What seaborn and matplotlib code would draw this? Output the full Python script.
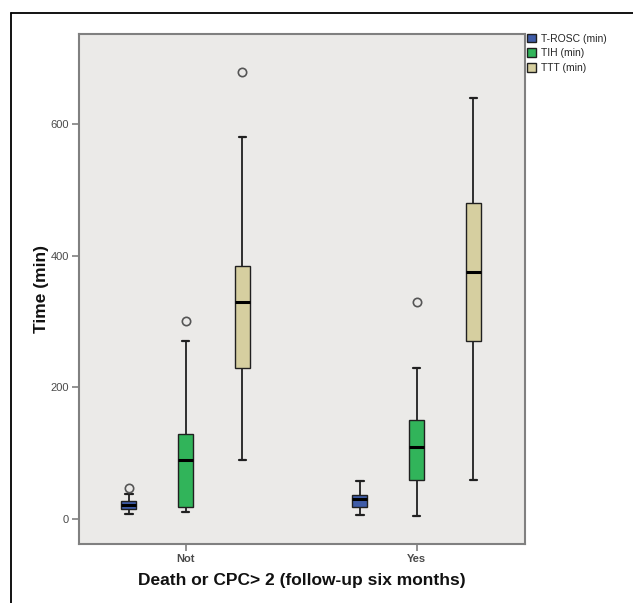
import matplotlib
matplotlib.use("Agg")

import matplotlib.pyplot as plt
from matplotlib.lines import Line2D
import seaborn as sns
import numpy as np
import pandas as pd

# ──────────────────────────────────────────────
# Data (minutes)
# ──────────────────────────────────────────────
groups  = ["Not", "Yes"]
series  = ["T-ROSC (min)", "TIH (min)", "TTT (min)"]

# per series: [Not, Yes]
whisk_lo = {"T-ROSC (min)": [7, 6],     "TIH (min)": [10, 5],    "TTT (min)": [90, 60]}
q1       = {"T-ROSC (min)": [15, 18],   "TIH (min)": [18, 60],   "TTT (min)": [229, 270]}
median   = {"T-ROSC (min)": [22, 30],   "TIH (min)": [90, 110],  "TTT (min)": [330, 375]}
q3       = {"T-ROSC (min)": [27, 37],   "TIH (min)": [130, 150], "TTT (min)": [385, 481]}
whisk_hi = {"T-ROSC (min)": [38, 58],   "TIH (min)": [270, 230], "TTT (min)": [581, 640]}
outliers = {"T-ROSC (min)": [[47], []], "TIH (min)": [[301], [330]], "TTT (min)": [[680], []]}

# ──────────────────────────────────────────────
# Theme
# ──────────────────────────────────────────────
BG_PLOT = "#ebeae8"
SPINE   = "#808080"
TICKTXT = "#4a4a4a"
PALETTE = {"T-ROSC (min)": "#3f5ca8", "TIH (min)": "#31b45a", "TTT (min)": "#d6cfa0"}

sns.set_theme(style="white")
plt.rcParams["font.family"] = ["Liberation Sans", "DejaVu Sans"]

# build a small sample per box whose quartiles / whiskers match the read values
rows = []
for s in series:
    for i, g in enumerate(groups):
        top = outliers[s][i] if outliers[s][i] else [whisk_hi[s][i]]
        vals = [whisk_lo[s][i], q1[s][i], q1[s][i], median[s][i], median[s][i],
                q3[s][i], q3[s][i], whisk_hi[s][i]] + top
        for v in vals:
            rows.append({"group": g, "series": s, "time": v})
df = pd.DataFrame(rows)

fig = plt.figure(figsize=(6.33, 6.03), dpi=100, facecolor="white")
ax = fig.add_axes([0.1243, 0.0978, 0.829 - 0.1243, 0.9444 - 0.0978])
ax.set_facecolor(BG_PLOT)

sns.boxplot(
    data=df, x="group", y="time", hue="series",
    order=groups, hue_order=series, palette=PALETTE, saturation=1,
    width=0.738, gap=0.74, whis=1.5, ax=ax,
    linecolor="#202020", linewidth=1.0,
    medianprops={"color": "black", "linewidth": 2.2},
    whiskerprops={"color": "#202020", "linewidth": 1.3},
    capprops={"color": "#202020", "linewidth": 1.6},
    flierprops={"marker": "o", "markersize": 6, "markerfacecolor": "none",
                "markeredgecolor": "#555555", "markeredgewidth": 1.2},
)

ax.set_xlim(-0.463, 1.468)
ax.set_ylim(-38, 738)
ax.set_yticks([0, 200, 400, 600])

ax.set_xlabel("Death or CPC> 2 (follow-up six months)", fontsize=12.5,
              fontweight="bold", color="#111111", labelpad=7)
ax.set_ylabel("Time (min)", fontsize=12.5, fontweight="bold",
              color="#111111", labelpad=1)

ax.tick_params(axis="both", which="both", direction="out", length=5, width=1.2,
               color=SPINE, labelcolor=TICKTXT, labelsize=8, pad=2,
               left=True, bottom=True)
for lbl in ax.get_xticklabels():
    lbl.set_fontweight("bold")
for sp in ax.spines.values():
    sp.set_color(SPINE)
    sp.set_linewidth(1.5)

sns.move_legend(ax, "upper left", bbox_to_anchor=(1.005, 1.0), frameon=False,
                title=None, fontsize=7.5, handlelength=0.9, handleheight=0.9,
                handletextpad=0.4, labelspacing=0.45, borderaxespad=0.0,
                borderpad=0.0)

# outer frame (top + left edges of the figure panel)
fig.add_artist(Line2D([11 / 633, 1.0], [1 - 13 / 603] * 2,
                      transform=fig.transFigure, color="black", lw=1.3))
fig.add_artist(Line2D([11 / 633] * 2, [0.0, 1 - 13 / 603],
                      transform=fig.transFigure, color="black", lw=1.3))

fig.savefig("out.png", dpi=100, facecolor="white")
